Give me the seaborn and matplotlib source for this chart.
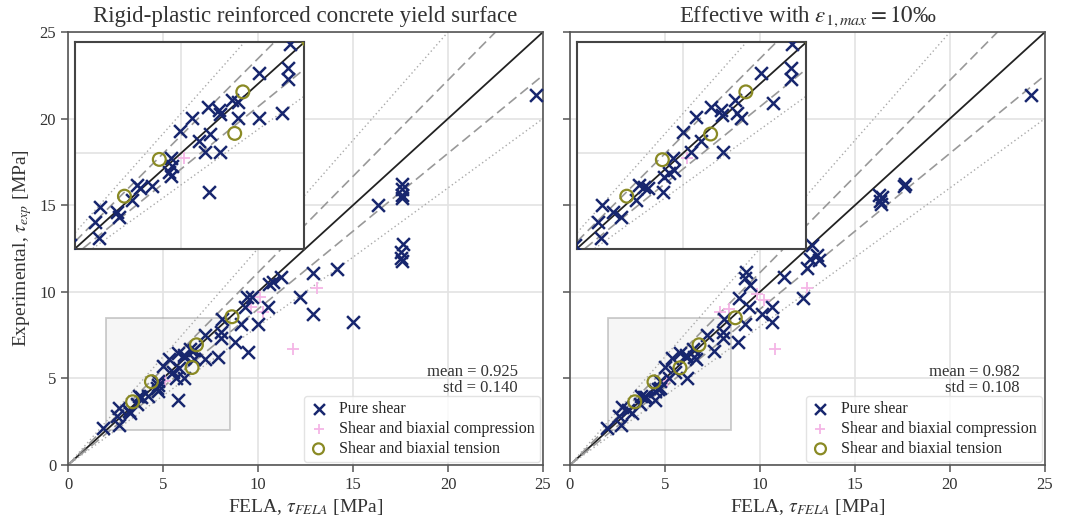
import matplotlib
matplotlib.use('Agg')
import matplotlib.pyplot as plt
import numpy as np
import pandas as pd
import seaborn as sns
from matplotlib.patches import Rectangle

# Rigid-plastic yield surface (left panel)
rp_shear_fela = [8.11, 8.05, 8.05, 7.21, 6.44, 6.62, 5.77, 6.08, 6.12, 6.62, 7.23, 7.88, 5.32, 4.99, 5.84,
                 5.51, 5.68, 6.12, 4.73, 4.75, 4.66, 4.71, 3.76, 3.85, 4.19, 5.79, 3.62, 2.70, 3.19, 3.24,
                 2.56, 2.67, 1.86, 17.56, 17.56, 17.56, 17.56, 16.33, 17.61, 17.50, 17.55, 17.60, 14.14,
                 12.91, 11.21, 10.81, 10.60, 12.21, 9.40, 9.70, 10.54, 9.32, 12.91, 14.98, 9.98, 9.11,
                 8.79, 9.46, 24.63]
rp_shear_exp = [8.44, 7.70, 7.36, 7.52, 6.68, 6.63, 6.47, 6.36, 6.23, 6.13, 6.10, 6.26, 6.13, 5.70, 5.61,
                5.39, 5.03, 5.05, 4.86, 4.61, 4.42, 4.29, 4.00, 3.92, 3.97, 3.77, 3.52, 3.31, 3.14, 3.00,
                2.84, 2.32, 2.12, 16.25, 15.95, 15.60, 15.40, 15.04, 12.75, 12.30, 11.95, 11.80, 11.29,
                11.10, 10.83, 10.58, 10.45, 9.71, 9.68, 9.71, 9.13, 9.13, 8.69, 8.27, 8.14, 8.14,
                7.12, 6.54, 21.35]
rp_comp_fela = [5.10, 9.65, 10.10, 10.25, 13.10, 11.85]
rp_comp_exp = [4.86, 9.15, 9.70, 8.85, 10.20, 6.70]
rp_tens_fela = [6.76, 6.53, 4.39, 3.40, 8.63]
rp_tens_exp = [6.94, 5.63, 4.81, 3.65, 8.56]

# Effective strength with eps_1,max = 10 permille (right panel)
ef_shear_fela = [8.11, 8.07, 8.07, 7.23, 6.48, 7.56, 5.79, 6.08, 6.12, 6.55, 6.65, 5.37, 5.02, 5.53, 5.23,
                 6.14, 4.73, 4.75, 4.61, 4.47, 3.76, 3.90, 4.02, 4.45, 3.67, 2.72, 3.03, 3.24, 2.60, 2.69,
                 1.93, 17.65, 17.60, 16.25, 16.40, 16.30, 16.35, 12.74, 13.00, 12.65, 13.09, 12.47, 11.25,
                 9.28, 9.23, 9.46, 8.88, 9.40, 10.63, 10.10, 10.63, 9.23, 8.84, 12.26, 24.26]
ef_shear_exp = [8.44, 7.70, 7.36, 7.52, 6.68, 6.58, 6.47, 6.36, 6.21, 6.26, 6.10, 6.15, 5.68, 5.39, 5.05,
                5.05, 4.86, 4.47, 4.37, 4.26, 4.00, 3.95, 3.92, 3.77, 3.52, 3.37, 3.16, 3.00, 2.84, 2.32,
                2.12, 16.25, 16.10, 15.60, 15.45, 15.25, 15.05, 12.69, 12.12, 11.92, 11.83, 11.35, 10.83,
                11.15, 10.77, 10.39, 9.62, 9.13, 9.13, 8.71, 8.27, 8.14, 7.12, 9.67, 21.35]
ef_comp_fela = [5.11, 7.90, 8.35, 9.85, 10.20, 12.47, 10.80]
ef_comp_exp = [4.84, 8.85, 9.00, 9.90, 9.50, 10.20, 6.70]
ef_tens_fela = [6.79, 5.79, 4.42, 3.41, 8.70]
ef_tens_exp = [6.94, 5.61, 4.80, 3.65, 8.50]

titles = ['Rigid-plastic reinforced concrete yield surface',
          r'Effective with $\varepsilon_{1,max} = 10$‰']
stats = ['mean = 0.925\nstd = 0.140', 'mean = 0.982\nstd = 0.108']
labels = ['Pure shear', 'Shear and biaxial compression', 'Shear and biaxial tension']

navy = '#17266e'
pink = '#f5b5e6'
olive = '#8a8a24'


def make_df(sf, se, cf, ce, tf, te):
    parts = [pd.DataFrame({'fela': sf, 'exp': se, 'case': labels[0]}),
             pd.DataFrame({'fela': cf, 'exp': ce, 'case': labels[1]}),
             pd.DataFrame({'fela': tf, 'exp': te, 'case': labels[2]})]
    return pd.concat(parts, ignore_index=True)


dfs = [make_df(rp_shear_fela, rp_shear_exp, rp_comp_fela, rp_comp_exp, rp_tens_fela, rp_tens_exp),
       make_df(ef_shear_fela, ef_shear_exp, ef_comp_fela, ef_comp_exp, ef_tens_fela, ef_tens_exp)]

sns.set_theme(style='whitegrid')
plt.rcParams['font.family'] = ['Liberation Serif', 'DejaVu Serif']
plt.rcParams['mathtext.fontset'] = 'stix'


def draw(ax, df, legend, ms=85):
    ax.axline((0, 0), slope=1, color='#222222', lw=1.3, zorder=2)
    for k in [0.9, 1 / 0.9]:
        ax.axline((0, 0), slope=k, color='#999999', lw=1.2, ls=(0, (6, 3)), zorder=2)
    for k in [0.8, 1.25]:
        ax.axline((0, 0), slope=k, color='#aaaaaa', lw=1.0, ls=(0, (1, 2)), zorder=2)
    d = df[df['case'] == labels[0]]
    sns.scatterplot(data=d, x='fela', y='exp', marker='x', color=navy, s=ms, linewidth=1.8,
                    ax=ax, label=labels[0] if legend else None, zorder=4)
    d = df[df['case'] == labels[1]]
    sns.scatterplot(data=d, x='fela', y='exp', marker='+', color=pink, s=ms, linewidth=1.3,
                    ax=ax, label=labels[1] if legend else None, zorder=3)
    d = df[df['case'] == labels[2]]
    sns.scatterplot(data=d, x='fela', y='exp', marker='o', facecolor='none', edgecolor=olive,
                    s=ms, linewidth=1.6, ax=ax, label=labels[2] if legend else None, zorder=4)


fig = plt.figure(figsize=(10.66, 5.23), dpi=100)
axes = [fig.add_axes([0.0638, 0.1109, 0.4456, 0.8279]),
        fig.add_axes([0.5347, 0.1109, 0.4456, 0.8279])]

for i, ax in enumerate(axes):
    df = dfs[i]
    ax.add_patch(Rectangle((2, 2), 6.5, 6.5, facecolor='#eeeeee', alpha=0.5,
                           edgecolor='#999999', lw=1.3, zorder=1))
    draw(ax, df, legend=True)
    ax.set_xlim(0, 25)
    ax.set_ylim(0, 25)
    ax.set_xticks(np.arange(0, 26, 5))
    ax.set_yticks(np.arange(0, 26, 5))
    ax.grid(color='#e3e3e3', lw=1.2)
    for s in ax.spines.values():
        s.set_color('#555555')
        s.set_linewidth(1.2)
    ax.tick_params(axis='both', which='major', direction='out', length=5, width=1.1,
                   color='#555555', labelsize=12, labelcolor='#333333',
                   bottom=True, left=True)
    ax.set_title(titles[i], fontsize=16.5, color='#333333', pad=7)
    ax.set_xlabel(r'FELA, $\tau_{FELA}$ [MPa]', fontsize=14, color='#333333', labelpad=3)
    if i == 0:
        ax.set_ylabel(r'Experimental, $\tau_{exp}$ [MPa]', fontsize=14, color='#333333')
    else:
        ax.set_ylabel('')
        ax.set_yticklabels([])
    ax.text(0.947, 0.16, stats[i], transform=ax.transAxes, ha='right', va='bottom',
            fontsize=12, color='#333333', linespacing=1.0)
    ax.legend(loc='lower right', fontsize=11.5, frameon=True, edgecolor='#dddddd',
              borderaxespad=0.2, handletextpad=0.7, handlelength=1.2, borderpad=0.3,
              labelspacing=0.25, markerscale=0.85)

    ins = ax.inset_axes([0.015, 0.5, 0.482, 0.476])
    ins.set_facecolor('white')
    draw(ins, df, legend=False)
    ins.set_xlim(2, 8.5)
    ins.set_ylim(2, 8.5)
    ins.set_xticks([5])
    ins.set_yticks([5])
    ins.set_xticklabels([])
    ins.set_yticklabels([])
    ins.tick_params(length=0)
    ins.set_xlabel('')
    ins.set_ylabel('')
    ins.grid(color='#e3e3e3', lw=1.2)
    for s in ins.spines.values():
        s.set_color('#444444')
        s.set_linewidth(1.5)

fig.savefig('out.png', dpi=100)
